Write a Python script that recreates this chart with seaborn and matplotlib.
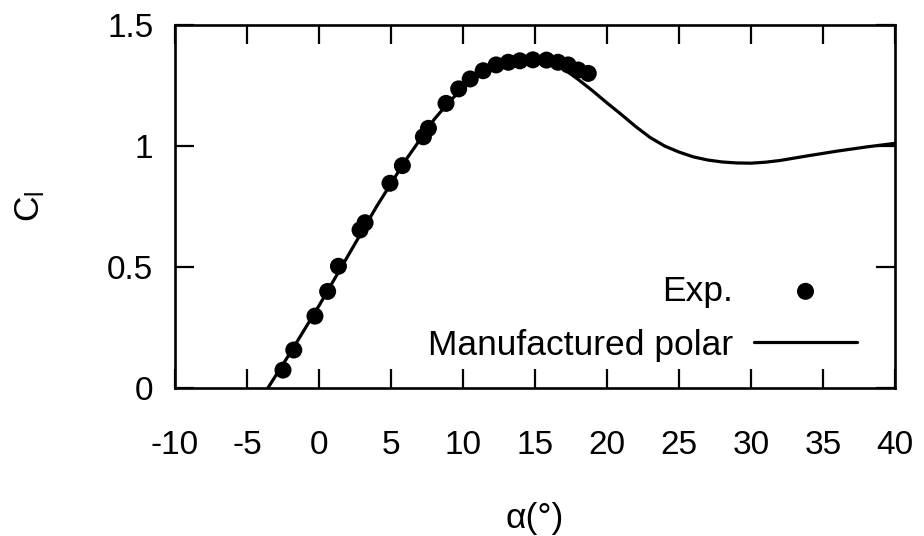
import numpy as np
import pandas as pd
import matplotlib
matplotlib.use("Agg")
import matplotlib.pyplot as plt
import seaborn as sns

# ==========================
# DATA
# ==========================
exp_alpha = [-2.5, -1.75, -0.28, 0.6, 1.35, 2.85, 3.2, 4.93, 5.79, 7.25, 7.6,
             8.82, 9.7, 10.5, 11.4, 12.3, 13.15, 13.95, 14.85, 15.8, 16.6,
             17.3, 18.0, 18.7]
exp_cl = [0.074, 0.157, 0.297, 0.399, 0.503, 0.653, 0.683, 0.846, 0.919, 1.038,
          1.073, 1.176, 1.236, 1.277, 1.311, 1.335, 1.346, 1.352, 1.356, 1.355,
          1.346, 1.335, 1.314, 1.300]

polar_alpha = [-3.55, -2, 0, 2, 4, 6, 8, 9, 10, 11, 12, 13, 14, 15, 16, 17, 18,
               19, 20, 21, 22, 23, 24, 25, 26, 27, 28, 29, 30, 31, 32, 34, 36,
               38, 40]
polar_cl = [0.0, 0.145, 0.34, 0.545, 0.75, 0.94, 1.11, 1.18, 1.24, 1.285, 1.32,
            1.342, 1.352, 1.353, 1.345, 1.318, 1.275, 1.228, 1.178, 1.13, 1.08,
            1.035, 1.0, 0.975, 0.955, 0.942, 0.934, 0.93, 0.929, 0.933, 0.94,
            0.96, 0.979, 0.996, 1.011]

x_ticks = [-10, -5, 0, 5, 10, 15, 20, 25, 30, 35, 40]
y_ticks = [0, 0.5, 1, 1.5]
y_tick_labels = ["0", "0.5", "1", "1.5"]

exp_df = pd.DataFrame({"alpha": exp_alpha, "cl": exp_cl})
polar_df = pd.DataFrame({"alpha": polar_alpha, "cl": polar_cl})

# ==========================
# STYLE
# ==========================
sns.set_theme(style="ticks")
plt.rcParams["font.family"] = ["Liberation Sans", "DejaVu Sans"]
plt.rcParams["mathtext.fontset"] = "custom"
plt.rcParams["mathtext.rm"] = "Liberation Sans"
plt.rcParams["mathtext.it"] = "Liberation Sans"
plt.rcParams["axes.linewidth"] = 1.9
plt.rcParams["text.color"] = "black"
plt.rcParams["axes.labelcolor"] = "black"
plt.rcParams["xtick.color"] = "black"
plt.rcParams["ytick.color"] = "black"
plt.rcParams["axes.edgecolor"] = "black"

fs = 24
legend_fs = 25.5

# ==========================
# PLOT
# ==========================
fig = plt.figure(figsize=(9.24, 5.36), dpi=100)
ax = fig.add_axes([175 / 924, 1 - 388 / 536, 720 / 924, 363 / 536])

sns.lineplot(data=polar_df, x="alpha", y="cl", ax=ax, color="black",
             linewidth=2.3, label="Manufactured polar", sort=False, zorder=2)
sns.scatterplot(data=exp_df, x="alpha", y="cl", ax=ax, color="black",
                s=150, edgecolor="none", label="Exp.", zorder=3)

ax.set_xlim(-10, 40)
ax.set_ylim(0, 1.5)
ax.set_xticks(x_ticks)
ax.set_xticklabels([str(t) for t in x_ticks])
ax.set_yticks(y_ticks)
ax.set_yticklabels(y_tick_labels)

ax.tick_params(axis="both", direction="in", length=14, width=1.6,
               labelsize=fs, top=True, right=True, labelcolor="black")
ax.tick_params(axis="x", pad=30)
ax.tick_params(axis="y", pad=15.5)

ax.set_xlabel("α(°)", fontsize=legend_fs)
ax.set_ylabel(r"C$_\mathregular{l}$", fontsize=legend_fs)
ax.xaxis.set_label_coords(0.5, -0.315)
ax.yaxis.set_label_coords(-0.178, 0.5)

handles, labels = ax.get_legend_handles_labels()
order = [labels.index("Exp."), labels.index("Manufactured polar")]
ax.legend([handles[i] for i in order], [labels[i] for i in order],
          loc="lower right", bbox_to_anchor=(0.947, 0.072),
          frameon=False, markerfirst=False, fontsize=legend_fs,
          handlelength=2.9, handletextpad=0.6, borderpad=0,
          borderaxespad=0, labelspacing=0.6)

fig.savefig("out.png", dpi=100)
